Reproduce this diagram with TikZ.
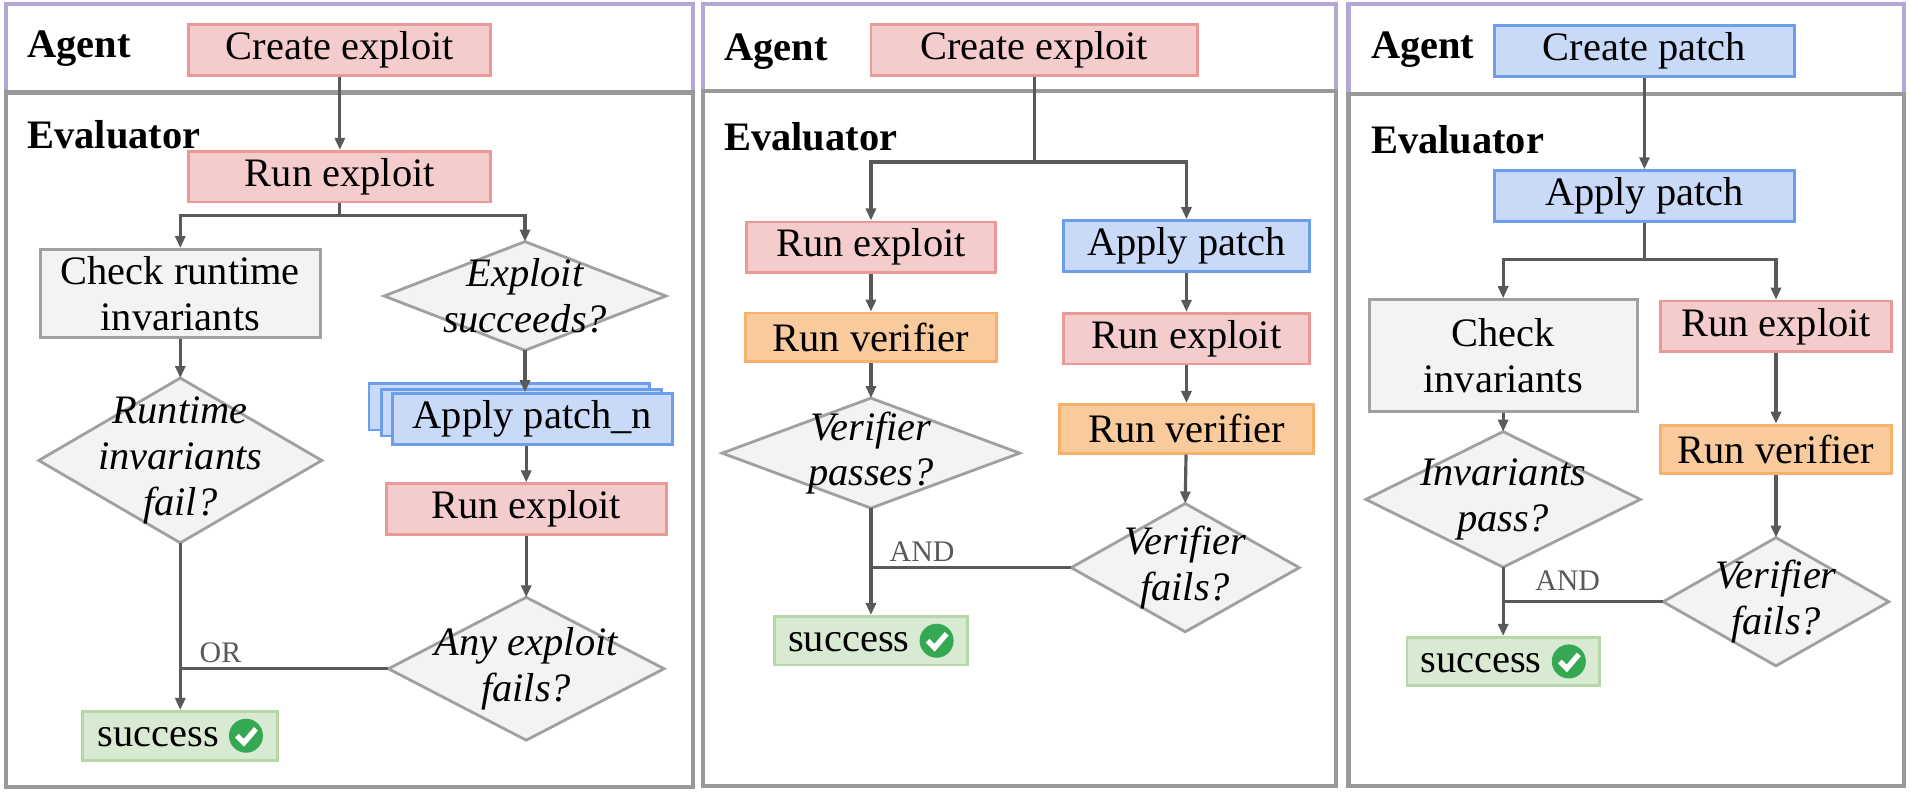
\documentclass[tikz,border=0pt]{standalone}
\usepackage{fontspec}
\setmainfont{Liberation Serif}
\usepackage{xcolor}
\usetikzlibrary{arrows.meta,backgrounds,calc}

\definecolor{exfill}{HTML}{F4CCCC}
\definecolor{exdraw}{HTML}{EA9999}
\definecolor{pafill}{HTML}{C9DAF8}
\definecolor{padraw}{HTML}{6D9EEB}
\definecolor{vefill}{HTML}{F9CB9C}
\definecolor{vedraw}{HTML}{F6B26B}
\definecolor{chfill}{HTML}{F3F3F3}
\definecolor{chdraw}{HTML}{A0A0A0}
\definecolor{okfill}{HTML}{D9EAD3}
\definecolor{okdraw}{HTML}{B6D7A8}
\definecolor{okmk}{HTML}{34A853}
\definecolor{lnk}{HTML}{595959}
\definecolor{lilac}{HTML}{B4A7D6}
\definecolor{frame}{HTML}{999999}

\newlength\px
\setlength\px{0.01218cm}
\newcommand\okmark{\tikz[x=1cm,y=1cm,baseline=-0.6ex]{\fill[okmk] (0,0) circle (0.17cm);
  \draw[white,line width=1.5pt] (-0.09,0) -- (-0.02,-0.07) -- (0.1,0.07);}}

\tikzset{
  box/.style={rectangle, minimum height=38\px, inner sep=2pt, line width=0.8pt,
    font=\fontsize{11.5}{13}\selectfont, align=center},
  rbox/.style={box, fill=exfill, draw=exdraw},
  bbox/.style={box, fill=pafill, draw=padraw},
  obox/.style={box, fill=vefill, draw=vedraw},
  gbox/.style={box, fill=chfill, draw=chdraw},
  okbox/.style={box, fill=okfill, draw=okdraw},
  dec/.style={box, draw=none, inner sep=0pt, font=\fontsize{11.5}{13}\selectfont\itshape},
  decline/.style={fill=chfill, draw=chdraw, line width=0.8pt},
  arr/.style={lnk, line width=0.9pt, -{Triangle[width=0.1cm,length=0.12cm]}},
  lnkline/.style={lnk, line width=0.9pt},
  lane/.style={font=\fontsize{11.5}{14}\selectfont\bfseries, anchor=west, inner sep=0pt},
  gate/.style={lnk, font=\fontsize{8.5}{10}\selectfont},
}
\newcommand\dia[5]{\node[dec, minimum width=#3\px, minimum height=#4\px] (#1) at (#2) {#5};
  \begin{pgfonlayer}{background}
  \draw[decline] (#1.north) -- (#1.east) -- (#1.south) -- (#1.west) -- cycle;
  \end{pgfonlayer}}

\begin{document}
\begin{tikzpicture}[x=\px, y=-\px]
\useasboundingbox (0,0) rectangle (1568,650);

% panel frames
\draw [lilac, line width=1.2pt] (5,3) rectangle (569,76);
\draw [frame, line width=1.2pt] (5,76) rectangle (569,646);
\draw [lilac, line width=1.2pt] (577,3) rectangle (1097,75);
\draw [frame, line width=1.2pt] (577,75) rectangle (1097,645);
\draw [lilac, line width=1.2pt] (1107,3) rectangle (1563,77);
\draw [frame, line width=1.2pt] (1107,77) rectangle (1563,645);

% panel 1
\node [lane] (ag1) at (22,40) {Agent};
\node [lane] (ev1) at (22,111) {Evaluator};
\node [rbox, minimum width=248\px] (ce1) at (279,41) {Create exploit};
\node [rbox, minimum width=248\px] (re1) at (279,145) {Run exploit};
\node [gbox, minimum width=230\px, minimum height=72\px] (cr1) at (148,241) {Check runtime\\invariants};
\dia{es1}{431,243}{229}{87}{Exploit\\succeeds?}
\draw [bbox] (303,315) rectangle (533,353);
\draw [bbox] (313,320) rectangle (543,358);
\node [bbox, minimum width=230\px] (ap1) at (437,344) {Apply patch\_n};
\node [rbox, minimum width=230\px, minimum height=40\px] (rx1) at (432,418) {Run exploit};
\dia{rf1}{148,378}{230}{133}{Runtime\\invariants\\fail?}
\dia{af1}{432,549}{224}{115}{Any exploit\\fails?}
\node [okbox, minimum width=160\px, minimum height=40\px] (ok1) at (148,604) {success \okmark};
\draw [arr] (ce1) -- (re1);
\draw [arr] (re1.south) -- ++(0,10) -| (cr1.north);
\draw [arr] (re1.south) -- ++(0,10) -| (es1.north);
\draw [arr] (cr1.south) -- (rf1.north);
\draw [arr] (es1.south) -- (es1.south |- ap1.north);
\draw [arr] (ap1.south -| rx1.north) -- (rx1.north);
\draw [arr] (rx1.south) -- (af1.north);
\draw [arr] (rf1.south) -- (ok1.north);
\draw [lnkline] (af1.west) -- (af1.west -| rf1.south);
\node [gate] (or1) at (181,536) {OR};

% panel 2
\node [lane] (ag2) at (594,42) {Agent};
\node [lane] (ev2) at (594,112) {Evaluator};
\node [rbox, minimum width=268\px] (ce2) at (849,41) {Create exploit};
\node [rbox, minimum width=204\px, minimum height=40\px] (re2) at (715,203) {Run exploit};
\node [bbox, minimum width=202\px] (ap2) at (974,202) {Apply patch};
\node [obox, minimum width=206\px, minimum height=40\px] (rv2) at (715,277) {Run verifier};
\node [rbox, minimum width=202\px, minimum height=40\px] (rx2) at (974,278) {Run exploit};
\node [obox, minimum width=209\px, minimum height=40\px] (rw2) at (974,352) {Run verifier};
\dia{vp2}{715,372}{242}{88}{Verifier\\passes?}
\dia{vf2}{973,466}{185}{103}{Verifier\\fails?}
\node [okbox, minimum width=158\px, minimum height=40\px] (ok2) at (715,526) {success \okmark};
\draw [arr] (ce2.south) -- ++(0,70) -| (re2.north);
\draw [arr] (ce2.south) -- ++(0,70) -| (ap2.north);
\draw [arr] (re2) -- (rv2);
\draw [arr] (rv2) -- (vp2.north);
\draw [arr] (ap2) -- (rx2);
\draw [arr] (rx2) -- (rw2);
\draw [arr] (rw2) -- (vf2.north);
\draw [arr] (vp2.south) -- (ok2.north);
\draw [lnkline] (vf2.west) -- (vf2.west -| vp2.south);
\node [gate] (and2) at (757,453) {AND};

% panel 3
\node [lane] (ag3) at (1125,41) {Agent};
\node [lane] (ev3) at (1125,115) {Evaluator};
\node [bbox, minimum width=246\px] (cp3) at (1350,42) {Create patch};
\node [bbox, minimum width=246\px, minimum height=40\px] (ap3) at (1350,161) {Apply patch};
\node [gbox, minimum width=220\px, minimum height=92\px] (ci3) at (1234,292) {Check\\invariants};
\node [rbox, minimum width=189\px, minimum height=40\px] (rx3) at (1458,268) {Run exploit};
\node [obox, minimum width=190\px, minimum height=40\px] (rv3) at (1458,369) {Run verifier};
\dia{ip3}{1234,410}{223}{109}{Invariants\\pass?}
\dia{vf3}{1458,494}{183}{103}{Verifier\\fails?}
\node [okbox, minimum width=158\px, minimum height=38\px] (ok3) at (1234,543) {success \okmark};
\draw [arr] (cp3) -- (ap3);
\draw [arr] (ap3.south) -- ++(0,30) -| (ci3.north);
\draw [arr] (ap3.south) -- ++(0,30) -| (rx3.north);
\draw [arr] (ci3) -- (ip3.north);
\draw [arr] (rx3) -- (rv3);
\draw [arr] (rv3) -- (vf3.north);
\draw [arr] (ip3.south) -- (ok3.north);
\draw [lnkline] (vf3.west) -- (vf3.west -| ip3.south);
\node [gate] (and3) at (1287,477) {AND};

\end{tikzpicture}
\end{document}
